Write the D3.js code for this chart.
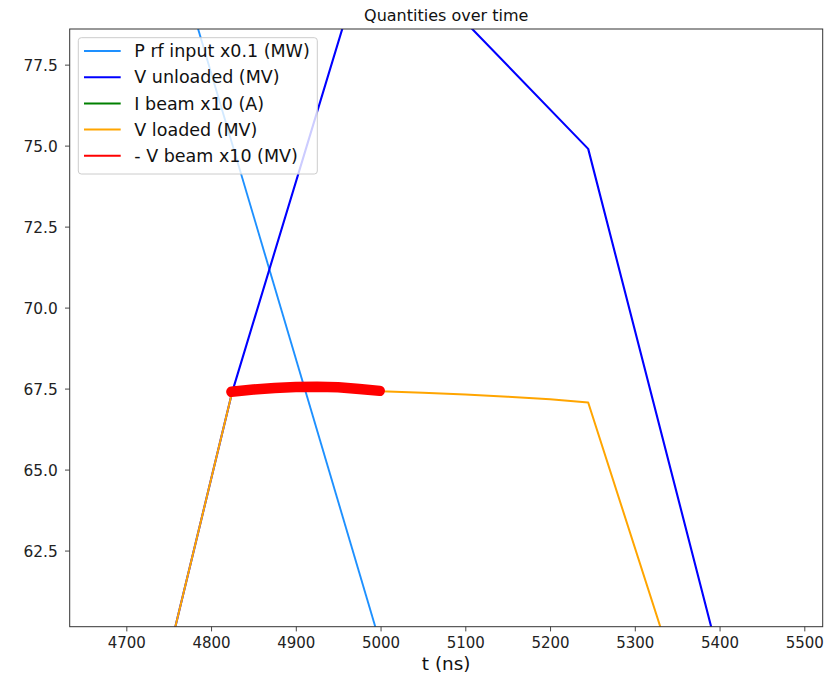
<!DOCTYPE html>
<html>
<head>
<meta charset="utf-8">
<script src="https://cdn.jsdelivr.net/npm/d3@7"></script>
<style>
  body { margin: 0; background: #fff; }
  svg { font-family: "DejaVu Sans", sans-serif; }
</style>
</head>
<body>
<div id="chart"></div>
<script>
// values (t in ns)
var prfTime = [4770, 5000];
var prfVal = [79.9, 59.6];

var vuTime = [4750, 4825, 4960, 5100, 5245, 5400];
var vuVal = [59.3, 67.40, 79.05, 78.82, 74.9, 59.14];

var ibTime = [];
var ibVal = [];

var vlTime = [4750, 4825, 4850, 4875, 4900, 4925, 4950, 4975, 5000, 5050, 5100, 5150, 5200, 5245, 5340];
var vlVal = [59.3, 67.40, 67.47, 67.52, 67.55, 67.56, 67.54, 67.49, 67.42, 67.37, 67.32, 67.25, 67.17, 67.07, 59.34];

var vbTime = [4824, 4850, 4875, 4900, 4925, 4950, 4975, 4999];
var vbVal = [67.40, 67.47, 67.52, 67.55, 67.56, 67.54, 67.49, 67.43];

var xTicks = [4700, 4800, 4900, 5000, 5100, 5200, 5300, 5400, 5500];
var yTicks = [62.5, 65.0, 67.5, 70.0, 72.5, 75.0, 77.5];

var seriesNames = ["P rf input x0.1 (MW)", "V unloaded (MV)", "I beam x10 (A)", "V loaded (MV)", "- V beam x10 (MV)"];
var seriesColors = ["#1e90ff", "#0000ff", "#008000", "#ffa500", "#ff0000"];

var svgWidth = 838, svgHeight = 679;
var margin = { top: 29, right: 15.3, bottom: 52.3, left: 69.7 };
var width = svgWidth - margin.left - margin.right;
var height = svgHeight - margin.top - margin.bottom;

var svg = d3.select("#chart").append("svg")
  .attr("width", svgWidth)
  .attr("height", svgHeight);

var chartGroup = svg.append("g")
  .attr("transform", `translate(${margin.left}, ${margin.top})`);

var xScale = d3.scaleLinear().domain([4633.2, 5521.7]).range([0, width]);
var yScale = d3.scaleLinear().domain([60.15, 78.6]).range([height, 0]);

svg.append("defs").append("clipPath").attr("id", "clip")
  .append("rect").attr("width", width).attr("height", height);

var plot = chartGroup.append("g").attr("clip-path", "url(#clip)");

function pts(ts, vs) { return ts.map((t, i) => [t, vs[i]]); }

var line = d3.line().x(d => xScale(d[0])).y(d => yScale(d[1]));

var series = [
  { data: pts(prfTime, prfVal), width: 1.9 },
  { data: pts(vuTime, vuVal), width: 2.1 },
  { data: pts(ibTime, ibVal), width: 1.9 },
  { data: pts(vlTime, vlVal), width: 2 },
  { data: pts(vbTime, vbVal), width: 10.5 }
];

series.forEach(function(s, i) {
  if (!s.data.length) return;
  plot.append("path")
    .datum(s.data)
    .attr("fill", "none")
    .attr("stroke", seriesColors[i])
    .attr("stroke-width", s.width)
    .attr("stroke-linecap", i == 4 ? "round" : "butt")
    .attr("stroke-linejoin", "round")
    .attr("d", line);
});

// axes
var xAxis = d3.axisBottom(xScale).tickValues(xTicks).tickSize(4.7).tickFormat(d3.format("d"));
var yAxis = d3.axisLeft(yScale).tickValues(yTicks).tickSize(4.7).tickFormat(d3.format(".1f"));

var gx = chartGroup.append("g")
  .attr("transform", `translate(0, ${height})`)
  .call(xAxis);
gx.select(".domain").remove();
gx.selectAll("line").attr("stroke", "#333").attr("stroke-width", 0.9);
gx.selectAll("text")
  .attr("y", 21.5).attr("dy", 0)
  .attr("font-size", "15px").attr("fill", "#222")
  .attr("font-family", "DejaVu Sans");

var gy = chartGroup.append("g").call(yAxis);
gy.select(".domain").remove();
gy.selectAll("line").attr("stroke", "#333").attr("stroke-width", 0.9);
gy.selectAll("text")
  .attr("x", -12).attr("dy", "0.36em")
  .attr("font-size", "15.4px").attr("fill", "#222")
  .attr("font-family", "DejaVu Sans");

// frame
chartGroup.append("rect")
  .attr("width", width).attr("height", height)
  .attr("fill", "none").attr("stroke", "#333").attr("stroke-width", 1);

// title and label
svg.append("text")
  .attr("x", margin.left + width / 2).attr("y", 20.7)
  .attr("text-anchor", "middle").attr("font-size", "16px").attr("fill", "#111")
  .text("Quantities over time");

svg.append("text")
  .attr("x", margin.left + width / 2).attr("y", 670)
  .attr("text-anchor", "middle").attr("font-size", "18.4px").attr("fill", "#111")
  .text("t (ns)");

// legend
var legend = chartGroup.append("g").attr("transform", "translate(8.6, 8.7)");
legend.append("rect")
  .attr("width", 239).attr("height", 136.3)
  .attr("rx", 3).attr("ry", 3)
  .attr("fill", "rgba(255,255,255,0.8)")
  .attr("stroke", "#ccc").attr("stroke-width", 1);

seriesNames.forEach(function(name, i) {
  var y = 13.3 + i * 26.2;
  legend.append("line")
    .attr("x1", 5.7).attr("x2", 42.4).attr("y1", y).attr("y2", y)
    .attr("stroke", seriesColors[i]).attr("stroke-width", 2);
  legend.append("text")
    .attr("x", 56).attr("y", y).attr("dy", "0.36em")
    .attr("font-size", "17.5px").attr("fill", "#111")
    .text(name);
});
</script>
</body>
</html>
